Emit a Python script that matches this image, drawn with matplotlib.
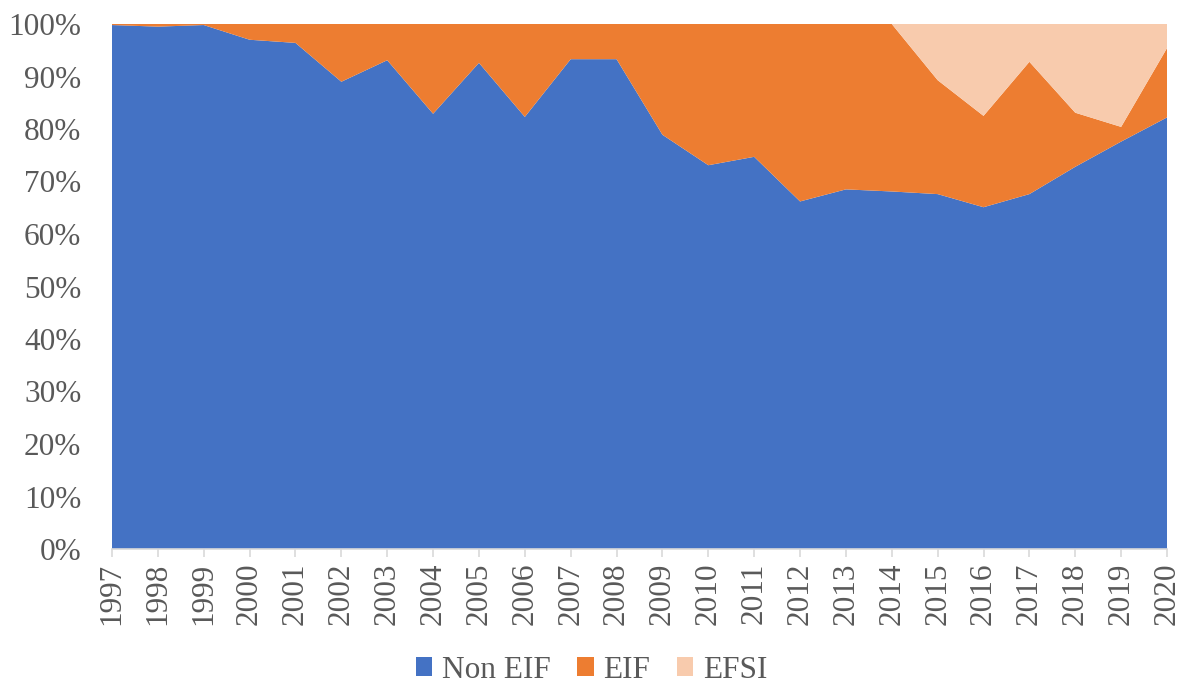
import numpy as np
import matplotlib.pyplot as plt
from matplotlib.patches import Patch

plt.rcParams["font.family"] = ["Liberation Serif", "DejaVu Serif"]

# 数据
years = list(range(1997, 2021))
non_eif = [99.8, 99.5, 99.8, 97.0, 96.4, 89.0, 93.1, 82.9, 92.6, 82.3, 93.3, 93.3,
           78.9, 73.1, 74.7, 66.2, 68.5, 68.1, 67.6, 65.1, 67.6, 72.8, 77.6, 82.2]
eif = [0.2, 0.5, 0.2, 3.0, 3.6, 11.0, 6.9, 17.1, 7.4, 17.7, 6.7, 6.7,
       21.1, 26.9, 25.3, 33.8, 31.5, 31.9, 21.7, 17.4, 25.2, 10.3, 2.8, 13.2]
efsi = [0, 0, 0, 0, 0, 0, 0, 0, 0, 0, 0, 0,
        0, 0, 0, 0, 0, 0, 10.7, 17.5, 7.2, 16.9, 19.6, 4.6]
series_names = ["Non EIF", "EIF", "EFSI"]
colors = ["#4472C4", "#ED7D31", "#F8CBAD"]

fig = plt.figure(figsize=(11.83, 6.88), dpi=100)
ax = fig.add_axes([112 / 1183, 1 - 549 / 688, (1167 - 112) / 1183, (549 - 24) / 688])

ax.stackplot(years, non_eif, eif, efsi, colors=colors, linewidth=0)

ax.set_xlim(1997, 2020)
ax.set_ylim(0, 100)
ax.set_yticks(np.arange(0, 101, 10))
ax.set_yticklabels([f"{v}%" for v in range(0, 101, 10)])
ax.set_xticks(years)
ax.set_xticklabels([str(y) for y in years], rotation=90)

# 坐标轴样式
for s in ["left", "right", "top"]:
    ax.spines[s].set_visible(False)
ax.spines["bottom"].set_color("#D9D9D9")
ax.spines["bottom"].set_linewidth(1.2)
ax.tick_params(axis="x", colors="#D9D9D9", length=6, width=1.2, direction="out",
               labelcolor="#595959", labelsize=22.5, pad=4)
ax.tick_params(axis="y", length=0, labelcolor="#595959", labelsize=22.5, pad=22)
ax.axhline(100, color="#D9D9D9", linewidth=1, zorder=0)

handles = [Patch(facecolor=c, edgecolor="none") for c in colors]
fig.legend(handles, series_names, loc="center", bbox_to_anchor=(0.5, 1 - 670 / 688),
           ncol=3, frameon=False, fontsize=22.5, labelcolor="#595959",
           handlelength=0.52, handleheight=0.52, handletextpad=0.3, columnspacing=0.87)

fig.savefig("out.png", dpi=100)
